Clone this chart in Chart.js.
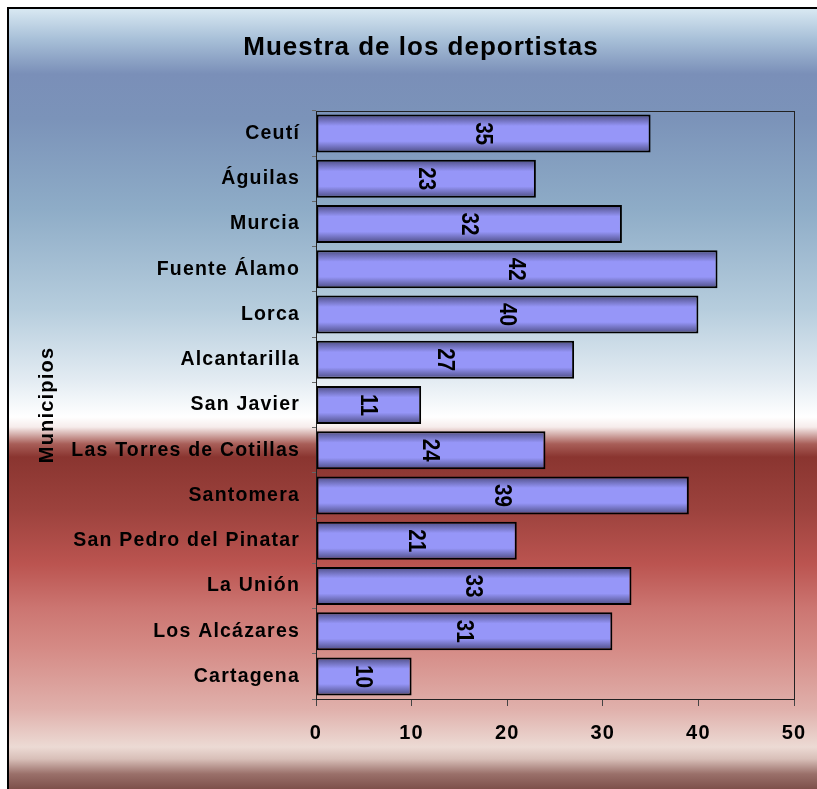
<!DOCTYPE html>
<html>
<head>
<meta charset="utf-8">
<script src="https://cdn.jsdelivr.net/npm/chart.js@4"></script>
<style>
  html, body { margin: 0; padding: 0; width: 817px; height: 789px; overflow: hidden; background: #fff; }
  #bg {
    position: absolute; left: 7px; top: 7px; width: 900px; height: 800px;
    border: 2px solid #000;
    background: linear-gradient(to bottom,
      #d8e8f2 0px, #a8c0d8 30px, #7a8fb8 65px, #7b93b9 110px, #8eacc7 200px,
      #b6cddd 300px, #e2ebf2 370px, #ffffff 408px, #f6eceb 418px, #a85e58 435px,
      #8a3530 448px, #9c423d 500px, #bb5450 555px, #cc7672 600px, #d58b86 640px,
      #e0b0ab 700px, #ecdad4 738px, #d8bfb8 750px, #9a706a 765px, #6a3a35 790px);
  }
  #wrap { position: absolute; left: 0; top: 0; width: 817px; height: 789px; }
</style>
</head>
<body>
<div id="bg"></div>
<div id="wrap"><canvas id="chart" width="817" height="789"></canvas></div>
<script>
// ─── Data ─────────────────────────────────────────────────────────────────────
const chartTitle = "Muestra de los deportistas";
const municipios = [
  "Ceutí", "Águilas", "Murcia", "Fuente Álamo", "Lorca", "Alcantarilla",
  "San Javier", "Las Torres de Cotillas", "Santomera", "San Pedro del Pinatar",
  "La Unión", "Los Alcázares", "Cartagena"
];
const deportistas = [35, 23, 32, 42, 40, 27, 11, 24, 39, 21, 33, 31, 10];
const xTicks = [0, 10, 20, 30, 40, 50];

const BAR_PCT = 0.84;
const FAMILY = "'Liberation Sans', Arial, sans-serif";

// ─── Bar gradient (dark edges, light centre) ──────────────────────────────────
function barFill(ctx) {
  const chart = ctx.chart;
  const area = chart.chartArea;
  if (!area || !chart.scales.y) return "#9999ff";
  const yc = chart.scales.y.getPixelForValue(ctx.dataIndex);
  const half = (area.bottom - area.top) / municipios.length * BAR_PCT / 2;
  const g = chart.ctx.createLinearGradient(0, yc - half, 0, yc + half);
  g.addColorStop(0, "#4c4c82");
  g.addColorStop(0.3, "#9696f8");
  g.addColorStop(0.7, "#9696f8");
  g.addColorStop(1, "#4c4c82");
  return g;
}

// ─── Plugins ──────────────────────────────────────────────────────────────────
// Excel renders its axis text slightly spaced out
const spacing = {
  id: "spacing",
  beforeUpdate(chart) { chart.ctx.letterSpacing = "1.2px"; },
  beforeDraw(chart)   { chart.ctx.letterSpacing = "1.2px"; }
};

const plotFrame = {
  id: "plotFrame",
  beforeDatasetsDraw(chart) {
    const { ctx, chartArea: a } = chart;
    ctx.save();
    ctx.strokeStyle = "#222";
    ctx.lineWidth = 1;
    ctx.strokeRect(a.left + 0.5, a.top + 0.5, a.right - a.left, a.bottom - a.top);
    ctx.restore();
  }
};

const titleText = {
  id: "titleText",
  afterDraw(chart) {
    const { ctx } = chart;
    ctx.save();
    ctx.letterSpacing = "1px";
    ctx.fillStyle = "#000";
    ctx.font = "bold 26px " + FAMILY;
    ctx.textAlign = "center";
    ctx.textBaseline = "middle";
    ctx.fillText(chartTitle, 421, 48);
    ctx.restore();
  }
};

const valueLabels = {
  id: "valueLabels",
  afterDatasetsDraw(chart) {
    const { ctx } = chart;
    const meta = chart.getDatasetMeta(0);
    ctx.save();
    ctx.letterSpacing = "0px";
    ctx.fillStyle = "#000";
    ctx.font = "bold 24px " + FAMILY;
    ctx.textAlign = "center";
    ctx.textBaseline = "middle";
    meta.data.forEach((bar, i) => {
      const x = (bar.x + bar.base) / 2;
      ctx.save();
      ctx.translate(x, bar.y);
      ctx.rotate(Math.PI / 2);
      ctx.scale(0.86, 1);
      ctx.fillText(String(deportistas[i]), 0, 1);
      ctx.restore();
    });
    ctx.restore();
  }
};

// ─── Chart ────────────────────────────────────────────────────────────────────
const font = (size) => ({ family: FAMILY, size, weight: "bold" });

new Chart(document.getElementById("chart"), {
  type: "bar",
  data: {
    labels: municipios,
    datasets: [{
      data: deportistas,
      backgroundColor: barFill,
      borderColor: "#000",
      borderWidth: 2,
      borderSkipped: false,
      barPercentage: BAR_PCT,
      categoryPercentage: 1
    }]
  },
  options: {
    indexAxis: "y",
    responsive: false,
    animation: false,
    layout: { padding: { left: 0, right: 23, top: 111, bottom: 0 } },
    scales: {
      x: {
        min: 0, max: 50,
        afterBuildTicks: s => { s.ticks = xTicks.map(v => ({ value: v })); },
        afterFit: s => { s.height = 90; s.paddingLeft = 0; s.paddingRight = 0; },
        border: { display: true, color: "#000", width: 1 },
        grid: { drawOnChartArea: false, drawTicks: true, tickLength: 7, color: "#444" },
        ticks: { color: "#000", font: font(20), padding: 15 }
      },
      y: {
        afterFit: s => { s.width = 316; s.paddingTop = 0; s.paddingBottom = 0; },
        border: { display: true, color: "#000", width: 1 },
        grid: { offset: true, drawOnChartArea: false, tickLength: 4, color: "#666" },
        ticks: { color: "#000", font: font(19.5), padding: 12, autoSkip: false },
        title: { display: true, text: "Municipios", color: "#000", font: font(20), padding: { top: 35, bottom: 0 } }
      }
    },
    plugins: {
      legend: { display: false },
      tooltip: { enabled: false },
      title: { display: false }
    }
  },
  plugins: [spacing, plotFrame, valueLabels, titleText]
});
</script>
</body>
</html>
